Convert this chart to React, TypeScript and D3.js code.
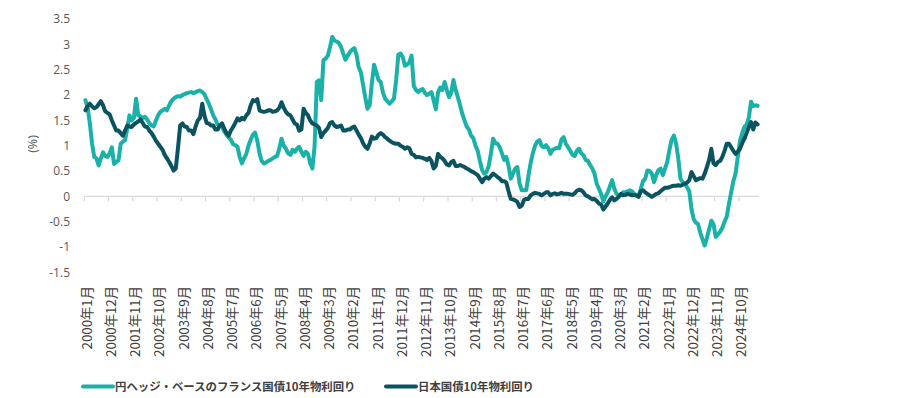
import React from "react";
import * as d3 from "d3";

const monthCount = 306;

const frenchHedged: number[] = [
  1.90, 1.76, 1.45, 1.05, 0.78, 0.75, 0.61, 0.75, 0.87, 0.80, 0.78, 0.85,
  0.97, 0.64, 0.68, 0.71, 1.04, 1.08, 1.11, 1.35, 1.60, 1.50, 1.55, 1.93,
  1.60, 1.58, 1.55, 1.57, 1.52, 1.45, 1.40, 1.38, 1.50, 1.60, 1.67, 1.70,
  1.73, 1.70, 1.80, 1.88, 1.93, 1.96, 1.98, 1.97, 2.00, 2.02, 2.04, 2.05,
  2.06, 2.04, 2.06, 2.08, 2.09, 2.06, 2.02, 1.92, 1.83, 1.72, 1.60, 1.52,
  1.42, 1.40, 1.38, 1.28, 1.22, 1.16, 1.12, 1.03, 1.01, 0.98, 0.78, 0.65,
  0.75, 0.84, 1.00, 1.12, 1.22, 1.26, 1.10, 0.85, 0.70, 0.65, 0.67, 0.70,
  0.72, 0.75, 0.78, 0.80, 0.95, 1.14, 1.00, 0.94, 0.85, 0.82, 0.92, 0.88,
  0.94, 0.98, 0.88, 0.80, 0.88, 0.84, 0.65, 0.55, 1.00, 2.26, 2.29, 1.90,
  2.69, 2.72, 2.78, 2.95, 3.15, 3.08, 3.06, 3.03, 2.95, 2.82, 2.70, 2.78,
  2.85, 2.90, 2.93, 2.80, 2.55, 2.45, 2.20, 1.95, 1.73, 1.80, 2.25, 2.60,
  2.45, 2.30, 2.26, 2.05, 1.93, 1.88, 1.83, 1.88, 1.93, 2.30, 2.80, 2.82,
  2.75, 2.58, 2.60, 2.65, 2.78, 2.18, 2.10, 2.06, 2.10, 2.12, 2.05, 2.00,
  2.03, 2.06, 1.90, 1.72, 2.05, 2.15, 2.10, 2.26, 2.10, 1.96, 2.05, 2.30,
  2.10, 1.96, 1.80, 1.63, 1.50, 1.38, 1.32, 1.20, 1.15, 1.00, 0.90, 0.70,
  0.52, 0.45, 0.48, 0.60, 0.85, 1.14, 1.05, 1.04, 0.97, 0.85, 0.72, 0.78,
  0.60, 0.35, 0.45, 0.55, 0.58, 0.25, 0.12, 0.12, 0.12, 0.40, 0.65, 0.85,
  1.00, 1.08, 1.11, 1.00, 0.97, 1.01, 0.95, 0.84, 0.92, 0.94, 0.96, 0.95,
  1.12, 1.17, 1.04, 0.97, 0.90, 0.82, 0.80, 0.90, 0.94, 0.85, 0.81, 0.72,
  0.70, 0.62, 0.55, 0.45, 0.25, 0.15, 0.05, -0.10, 0.00, 0.08, 0.20, 0.32,
  0.15, 0.05, 0.02, 0.03, 0.08, 0.08, 0.10, 0.12, 0.10, 0.05, 0.02, 0.00,
  0.15, 0.30, 0.35, 0.51, 0.50, 0.45, 0.28, 0.42, 0.52, 0.55, 0.42, 0.55,
  0.68, 0.92, 1.12, 1.20, 1.05, 0.75, 0.35, 0.28, 0.25, 0.18, 0.10, -0.25,
  -0.45, -0.52, -0.55, -0.72, -0.85, -0.97, -0.82, -0.65, -0.48, -0.55, -0.80, -0.75,
  -0.70, -0.62, -0.50, -0.40, -0.15, 0.08, 0.30, 0.45, 0.78, 1.10, 1.25, 1.37,
  1.42, 1.55, 1.87, 1.78, 1.80, 1.79,
];

const jgb10y: number[] = [
  1.70, 1.78, 1.83, 1.78, 1.74, 1.76, 1.82, 1.88, 1.80, 1.68, 1.65, 1.62,
  1.50, 1.40, 1.30, 1.30, 1.25, 1.20, 1.30, 1.40, 1.38, 1.37, 1.42, 1.45,
  1.48, 1.52, 1.45, 1.38, 1.37, 1.30, 1.25, 1.18, 1.10, 1.04, 0.98, 0.92,
  0.82, 0.75, 0.68, 0.60, 0.51, 0.55, 0.95, 1.40, 1.44, 1.38, 1.37, 1.30,
  1.30, 1.23, 1.38, 1.50, 1.55, 1.83, 1.60, 1.45, 1.44, 1.40, 1.40, 1.32,
  1.32, 1.40, 1.44, 1.34, 1.25, 1.20, 1.30, 1.37, 1.45, 1.54, 1.50, 1.55,
  1.52, 1.60, 1.65, 1.80, 1.90, 1.88, 1.92, 1.70, 1.68, 1.67, 1.68, 1.70,
  1.70, 1.67, 1.68, 1.70, 1.75, 1.86, 1.75, 1.67, 1.62, 1.60, 1.52, 1.44,
  1.42, 1.30, 1.32, 1.73, 1.65, 1.60, 1.50, 1.44, 1.42, 1.40, 1.35, 1.17,
  1.25, 1.30, 1.35, 1.45, 1.47, 1.40, 1.37, 1.38, 1.40, 1.30, 1.30, 1.32,
  1.32, 1.36, 1.38, 1.30, 1.22, 1.15, 1.05, 0.98, 0.94, 1.05, 1.18, 1.14,
  1.15, 1.22, 1.25, 1.22, 1.17, 1.14, 1.10, 1.07, 1.05, 1.04, 1.04, 1.00,
  0.98, 0.94, 0.97, 0.95, 0.84, 0.82, 0.77, 0.78, 0.77, 0.76, 0.74, 0.72,
  0.76, 0.70, 0.55, 0.60, 0.84, 0.78, 0.75, 0.70, 0.63, 0.61, 0.68, 0.70,
  0.60, 0.60, 0.62, 0.60, 0.58, 0.55, 0.53, 0.50, 0.48, 0.45, 0.42, 0.35,
  0.28, 0.35, 0.38, 0.35, 0.40, 0.45, 0.42, 0.38, 0.35, 0.30, 0.30, 0.27,
  0.10, -0.05, -0.06, -0.08, -0.11, -0.21, -0.18, -0.07, -0.05, -0.05, 0.02, 0.05,
  0.07, 0.06, 0.05, 0.02, 0.05, 0.08, 0.08, 0.02, 0.05, 0.06, 0.04, 0.05,
  0.07, 0.05, 0.05, 0.05, 0.04, 0.03, 0.06, 0.11, 0.13, 0.12, 0.08, 0.02,
  0.00, -0.03, -0.06, -0.05, -0.09, -0.14, -0.16, -0.26, -0.20, -0.14, -0.07, -0.02,
  -0.08, -0.05, -0.01, 0.05, 0.02, 0.03, 0.05, 0.04, 0.02, 0.03, 0.02, -0.01,
  0.10, 0.12, 0.08, 0.05, 0.02, -0.01, 0.02, 0.05, 0.06, 0.10, 0.14, 0.17,
  0.17, 0.18, 0.20, 0.21, 0.21, 0.22, 0.21, 0.23, 0.25, 0.27, 0.32, 0.48,
  0.40, 0.32, 0.34, 0.36, 0.35, 0.45, 0.58, 0.72, 0.94, 0.65, 0.62, 0.68,
  0.70, 0.78, 0.90, 1.04, 1.04, 0.97, 0.90, 0.84, 0.88, 0.94, 1.05, 1.14,
  1.25, 1.37, 1.47, 1.32, 1.46, 1.42,
];

const yTicks: number[] = [3.5, 3, 2.5, 2, 1.5, 1, 0.5, 0, -0.5, -1, -1.5];

const xTickLabels: string[] = [
  "2000年1月", "2000年12月", "2001年11月", "2002年10月", "2003年9月", "2004年8月",
  "2005年7月", "2006年6月", "2007年5月", "2008年4月", "2009年3月", "2010年2月",
  "2011年1月", "2011年12月", "2012年11月", "2013年10月", "2014年9月", "2015年8月",
  "2016年7月", "2017年6月", "2018年5月", "2019年4月", "2020年3月", "2021年2月",
  "2022年1月", "2022年12月", "2023年11月", "2024年10月",
];
const tickEvery = 11;

const seriesNames: string[] = ["円ヘッジ・ベースのフランス国債10年物利回り", "日本国債10年物利回り"];
const seriesColors: string[] = ["#19b1a8", "#0a5361"];

export default function App() {
  const W = 920, H = 398;
  const x = d3.scaleLinear().domain([0, monthCount]).range([84.3, 758.7]);
  const y = d3.scaleLinear().domain([-1.5, 3.5]).range([272.3, 19.2]);

  const line = d3
    .line<number>()
    .x((_, i) => x(i + 0.5))
    .y((d) => y(d))
    .curve(d3.curveLinear);

  const series = [frenchHedged, jgb10y];
  const y0 = y(0);
  const fmt = (v: number) => String(v);

  return (
    <svg
      width={W}
      height={H}
      style={{ position: "absolute", left: 0, top: 0, display: "block", background: "#fff" }}
    >
      {yTicks.map((t) => (
        <text
          key={t}
          x={70}
          y={y(t)}
          dy="0.35em"
          textAnchor="end"
          fontFamily="'Open Sans', 'Noto Sans', sans-serif"
          fontSize={12}
          fill="#595959"
        >
          {fmt(t)}
        </text>
      ))}
      <text
        transform={`translate(33,${144}) rotate(-90)`}
        textAnchor="middle"
        dy="0.35em"
        fontFamily="'Open Sans', 'Noto Sans', sans-serif"
        fontSize={12.5}
        fill="#595959"
      >
        (%)
      </text>

      <line x1={x(0)} x2={x(monthCount)} y1={y0} y2={y0} stroke="#d9d9d9" strokeWidth={1.2} />
      {xTickLabels.map((lab, k) => {
        const tx = x(k * tickEvery);
        const cx = x(k * tickEvery + 0.5) + 1.5;
        return (
          <g key={lab}>
            <line x1={tx} x2={tx} y1={y0} y2={y0 + 5} stroke="#d9d9d9" strokeWidth={1.2} />
            <text
              transform={`translate(${cx},286) rotate(-90)`}
              textAnchor="end"
              dy="0.36em"
              fontFamily="'Noto Sans CJK JP', sans-serif"
              fontSize={13.3}
              fill="#404040"
            >
              {lab}
            </text>
          </g>
        );
      })}

      {series.map((s, k) => (
        <path
          key={k}
          d={line(s) || ""}
          fill="none"
          stroke={seriesColors[k]}
          strokeWidth={4}
          strokeLinejoin="round"
          strokeLinecap="round"
        />
      ))}

      {[
        { x0: 83, tx: 115 },
        { x0: 386, tx: 418 },
      ].map((p, k) => (
        <g key={k}>
          <line
            x1={p.x0}
            x2={p.x0 + 30}
            y1={386.5}
            y2={386.5}
            stroke={seriesColors[k]}
            strokeWidth={4}
            strokeLinecap="round"
          />
          <text
            x={p.tx}
            y={386.5}
            dy="0.36em"
            fontFamily="'Noto Sans CJK JP', sans-serif"
            fontSize={11.4}
            fontWeight={700}
            fill="#404040"
          >
            {seriesNames[k]}
          </text>
        </g>
      ))}
    </svg>
  );
}
